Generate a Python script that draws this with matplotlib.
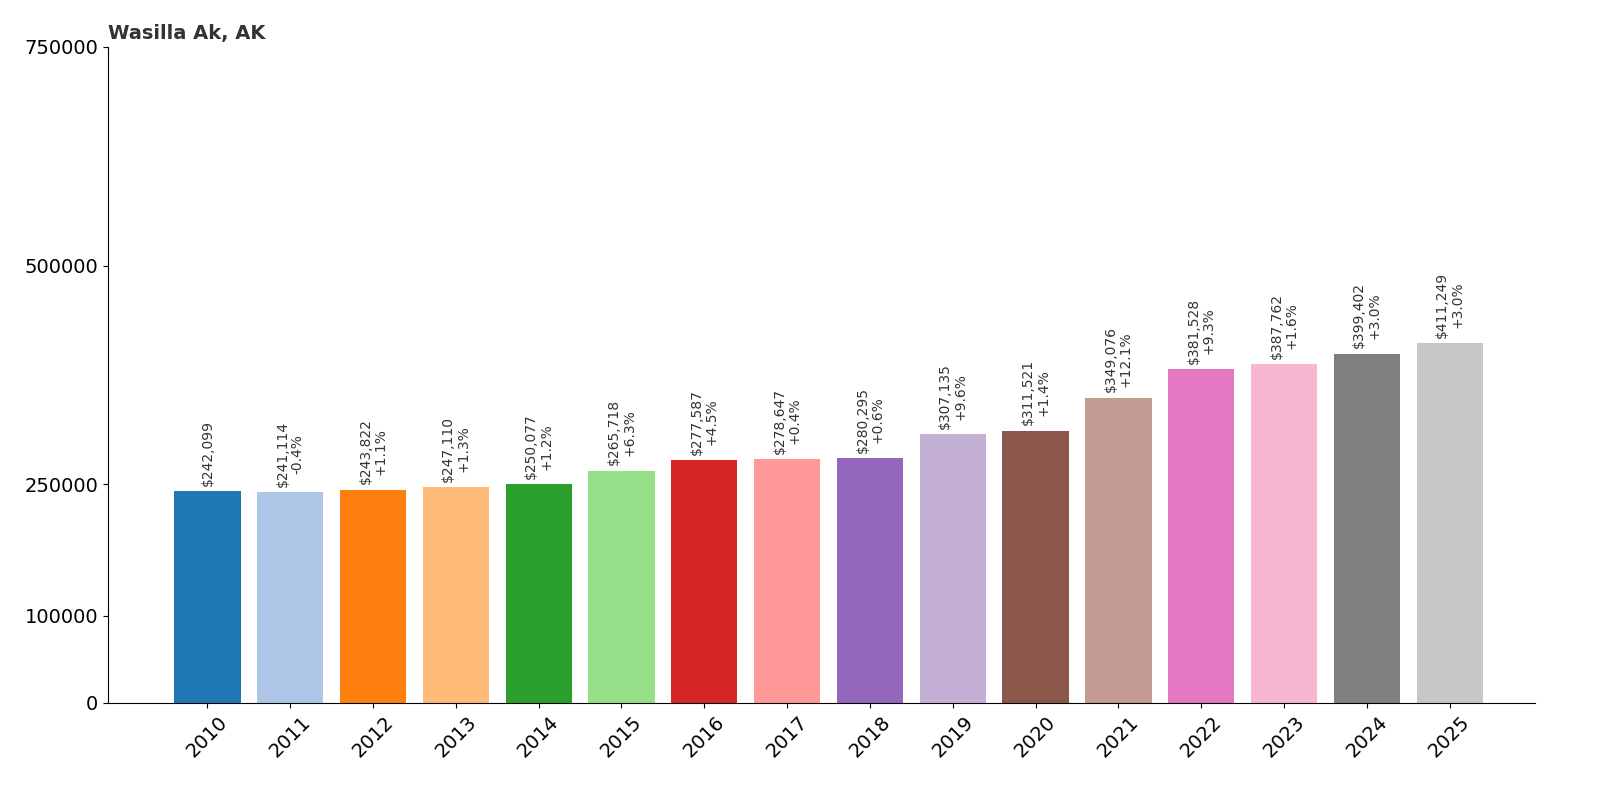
import matplotlib
matplotlib.use("Agg")
import matplotlib.pyplot as plt

years = [str(y) for y in range(2010, 2026)]
values = [242099, 241114, 243822, 247110, 250077, 265718, 277587, 278647,
          280295, 307135, 311521, 349076, 381528, 387762, 399402, 411249]
changes = [None, "-0.4%", "+1.1%", "+1.3%", "+1.2%", "+6.3%", "+4.5%", "+0.4%",
           "+0.6%", "+9.6%", "+1.4%", "+12.1%", "+9.3%", "+1.6%", "+3.0%", "+3.0%"]
yticks = [0, 100000, 250000, 500000, 750000]

fig = plt.figure(figsize=(16, 8), dpi=100)
ax = fig.add_axes([108/1600, 1-703/800, (1535-108)/1600, (703-47)/800])
colors = [plt.cm.tab20(i % 20) for i in range(len(years))]
x = list(range(len(years)))
ax.bar(x, values, width=0.8, color=colors)
for i, v in enumerate(values):
    lab = f"${v:,}" if changes[i] is None else f"${v:,}\n{changes[i]}"
    ax.text(i, v + 6000, lab, rotation=90, ha="center", va="bottom",
            fontsize=10, color="#333333", linespacing=1.1)
ax.set_xlim(-1.2, 16.03)
ax.set_ylim(0, 750000)
ax.set_yticks(yticks)
ax.set_yticklabels([str(t) for t in yticks], fontsize=14)
ax.set_xticks(x)
ax.set_xticklabels(years, rotation=45, fontsize=14)
for s in ["top", "right"]:
    ax.spines[s].set_visible(False)
ax.set_title("Wasilla Ak, AK", loc="left", fontsize=14, fontweight="bold",
             color="#333333", pad=6)
fig.savefig("out.png")
